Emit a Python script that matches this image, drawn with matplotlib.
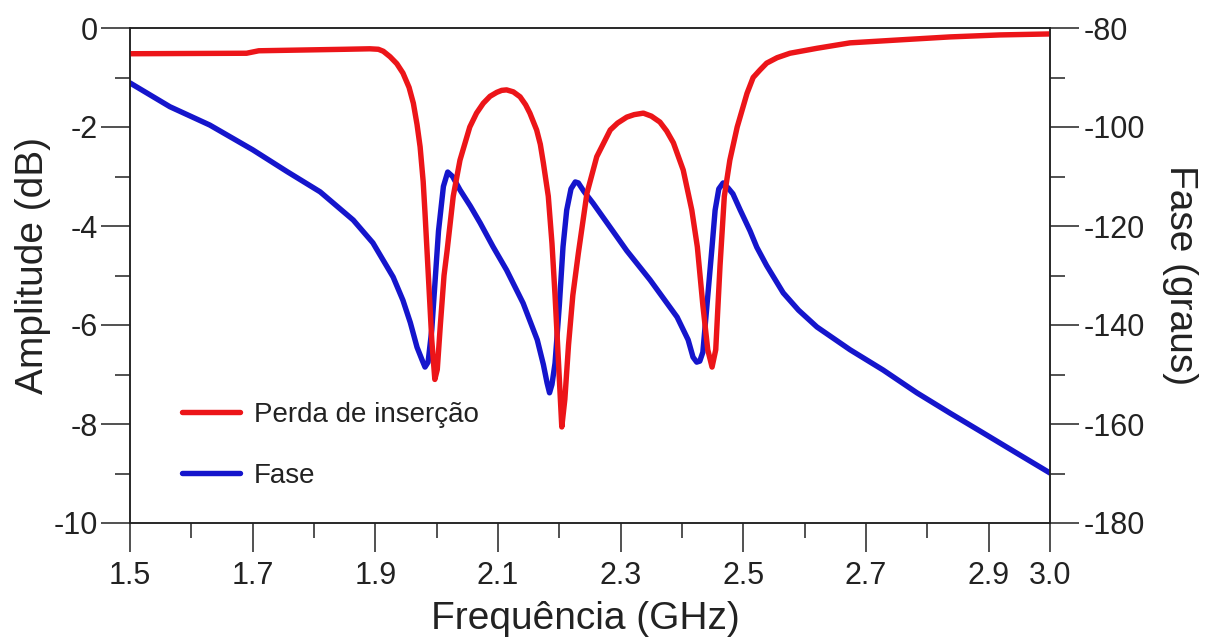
import matplotlib
matplotlib.use("Agg")
import matplotlib.pyplot as plt
from matplotlib.ticker import FixedLocator, MultipleLocator

plt.rcParams['font.family'] = ['Liberation Sans', 'DejaVu Sans']
plt.rcParams['axes.unicode_minus'] = False

# Insertion loss (dB), left axis
freq_il = [1.50, 1.69, 1.71, 1.85, 1.891, 1.905, 1.913, 1.924, 1.935, 1.945, 1.955, 1.962, 1.968,
           1.973, 1.978, 1.981, 1.986, 1.992, 1.997, 2.001, 2.006, 2.012, 2.017, 2.027,
           2.038, 2.054, 2.065, 2.076, 2.087, 2.098, 2.106, 2.114, 2.125, 2.136, 2.145,
           2.152, 2.163, 2.169, 2.174, 2.182, 2.188, 2.193, 2.198, 2.204, 2.209, 2.215,
           2.222, 2.231, 2.245, 2.261, 2.283, 2.295, 2.31, 2.322, 2.337, 2.35, 2.364,
           2.375, 2.386, 2.402, 2.416, 2.425, 2.434, 2.442, 2.449, 2.455, 2.462, 2.469,
           2.478, 2.49, 2.506, 2.516, 2.527, 2.538, 2.555, 2.576, 2.62, 2.674, 2.755,
           2.837, 2.918, 3.00]
perda = [-0.52, -0.51, -0.46, -0.43, -0.42, -0.43, -0.47, -0.58, -0.72, -0.91, -1.2, -1.52, -1.95,
         -2.4, -3.1, -3.74, -4.9, -6.3, -7.1, -6.9, -6.0, -5.0, -4.5, -3.4,
         -2.67, -2.0, -1.72, -1.52, -1.38, -1.3, -1.26, -1.25, -1.29, -1.39, -1.55,
         -1.72, -2.06, -2.35, -2.73, -3.4, -4.35, -5.4, -6.6, -8.06, -7.5, -6.4,
         -5.4, -4.55, -3.34, -2.6, -2.06, -1.92, -1.8, -1.75, -1.72, -1.78, -1.9,
         -2.08, -2.32, -2.87, -3.68, -4.42, -5.6, -6.5, -6.85, -6.5, -4.8, -3.4,
         -2.67, -2.0, -1.32, -1.0, -0.85, -0.71, -0.6, -0.51, -0.41, -0.30, -0.24,
         -0.18, -0.14, -0.12]

# Phase (degrees), right axis
freq_ph = [1.50, 1.565, 1.63, 1.70, 1.756, 1.81, 1.864, 1.896, 1.929, 1.945, 1.957, 1.968,
           1.976, 1.981, 1.986, 1.992, 2.003, 2.011, 2.018, 2.026, 2.038, 2.055, 2.071,
           2.092, 2.114, 2.141, 2.164, 2.174, 2.18, 2.184, 2.188, 2.193, 2.20, 2.206,
           2.212, 2.219, 2.226, 2.231, 2.24, 2.255, 2.294, 2.31, 2.348, 2.392, 2.41,
           2.418, 2.424, 2.429, 2.434, 2.44, 2.449, 2.454, 2.46, 2.467, 2.475, 2.483,
           2.495, 2.511, 2.522, 2.538, 2.565, 2.59, 2.62, 2.674, 2.728, 2.783, 2.837,
           2.891, 2.946, 3.00]
fase = [-91.1, -95.9, -99.6, -104.6, -109.0, -113.1, -118.8, -123.4, -130.3, -135.0, -139.5, -144.5,
        -147.0, -148.5, -147.5, -141.0, -121.0, -112.0, -109.1, -110.0, -112.7, -116.0, -119.4,
        -124.2, -128.9, -135.6, -143.0, -148.0, -151.7, -153.7, -152.0, -147.7, -136.0, -124.2,
        -116.8, -112.5, -111.1, -111.3, -113.0, -115.4, -122.2, -125.0, -130.9, -138.4, -143.0,
        -146.5, -147.5, -147.3, -145.5, -137.0, -124.2, -116.8, -112.5, -111.3, -112.3, -113.5,
        -116.8, -121.0, -124.3, -128.0, -133.5, -137.0, -140.4, -145.0, -149.1, -153.7, -157.8,
        -161.8, -165.9, -169.9]

x_major = [1.5, 1.7, 1.9, 2.1, 2.3, 2.5, 2.7, 2.9, 3.0]
x_labels = ['1.5', '1.7', '1.9', '2.1', '2.3', '2.5', '2.7', '2.9', '3.0']
x_minor = [1.6, 1.8, 2.0, 2.2, 2.4, 2.6, 2.8]

RED = '#ec1519'
BLUE = '#1515cc'

fig = plt.figure(figsize=(12.11, 6.43), dpi=100)
ax = fig.add_axes([130/1211, 120/643, 920/1211, 495/643])
ax2 = ax.twinx()

l1, = ax.plot(freq_il, perda, color=RED, lw=3.9, solid_joinstyle='round',
              solid_capstyle='round', label='Perda de inserção')
l2, = ax2.plot(freq_ph, fase, color=BLUE, lw=3.9, solid_joinstyle='round',
               solid_capstyle='round', label='Fase')

ax.set_zorder(ax2.get_zorder() + 1)
ax.patch.set_visible(False)

ax.set_xlim(1.5, 3.0)
ax.set_ylim(-10, 0)
ax2.set_ylim(-180, -80)

ax.xaxis.set_major_locator(FixedLocator(x_major))
ax.set_xticklabels(x_labels)
ax.xaxis.set_minor_locator(FixedLocator(x_minor))
ax.yaxis.set_major_locator(MultipleLocator(2))
ax.yaxis.set_minor_locator(MultipleLocator(1))
ax2.yaxis.set_major_locator(MultipleLocator(20))
ax2.yaxis.set_minor_locator(MultipleLocator(10))

for a in (ax, ax2):
    a.tick_params(which='major', direction='out', length=21, width=1.1, labelsize=22,
                  color='#222222', labelcolor='#222222')
    a.tick_params(which='minor', direction='out', length=10.5, width=1.1, color='#222222')
    for s in a.spines.values():
        s.set_linewidth(1.1)
        s.set_color('#222222')
ax.tick_params(axis='y', which='major', pad=2)
ax.tick_params(axis='x', which='major', pad=6)
ax2.tick_params(axis='y', which='major', pad=3)

ax.set_xlabel('Frequência (GHz)', fontsize=28, color='#222222')
ax.set_ylabel('Amplitude (dB)', fontsize=28, color='#222222')
ax2.set_ylabel('Fase (graus)', fontsize=28, rotation=270, color='#222222')
ax.xaxis.set_label_coords(0.495, -0.158)
ax.yaxis.set_label_coords(-0.086, 0.52)
ax2.yaxis.set_label_coords(1.161, 0.5)

leg = ax.legend(handles=[l1, l2], loc='center left', bbox_to_anchor=(0.029, 0.157),
                frameon=False, fontsize=20, handlelength=2.1, handletextpad=0.5,
                labelspacing=1.25)
for t in leg.get_texts():
    t.set_color('#222222')

fig.savefig('out.png', dpi=100)
